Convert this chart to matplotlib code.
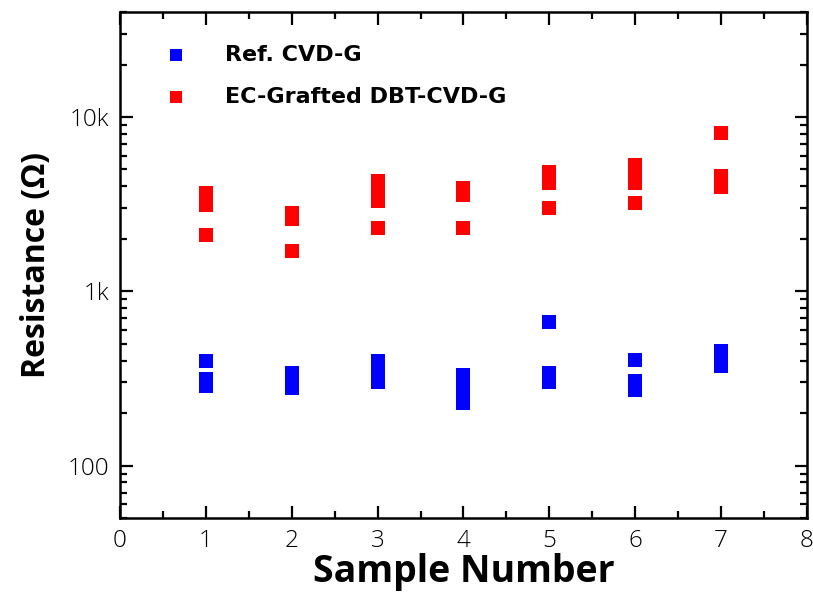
import numpy as np
import matplotlib
matplotlib.use("Agg")
import matplotlib.pyplot as plt
from matplotlib.ticker import FixedLocator, LogLocator, NullFormatter

# resistance values (ohm), per sample number
ref_x = [1, 1, 1, 2, 2, 2, 3, 3, 3, 4, 4, 4, 4, 5, 5, 5, 6, 6, 6, 7, 7, 7]
ref_r = [396, 314, 286, 340, 305, 277, 396, 345, 300, 331, 290, 255, 228,
         670, 338, 302, 401, 304, 273, 454, 410, 373]

dbt_x = [1, 1, 1, 1, 2, 2, 2, 3, 3, 3, 3, 4, 4, 4, 5, 5, 5, 6, 6, 6, 6, 7, 7, 7, 7]
dbt_r = [3680, 3400, 3140, 2100, 2810, 2610, 1700, 4300, 3780, 3310, 2310,
         3900, 3580, 2310, 4820, 4170, 3000, 5320, 4700, 4170, 3200,
         8050, 4600, 4250, 3980]

plt.rcParams['font.family'] = ['Open Sans', 'DejaVu Sans']

fig = plt.figure(figsize=(8.13, 6.11), dpi=100)
ax = fig.add_axes([0.1476, 0.1522, 0.845, 0.828])

ax.scatter(ref_x, ref_r, marker='s', s=100, color='#0000ff', linewidths=0,
           label='Ref. CVD-G', zorder=3)
ax.scatter(dbt_x, dbt_r, marker='s', s=100, color='#ff0000', linewidths=0,
           label='EC-Grafted DBT-CVD-G', zorder=3)

ax.set_yscale('log')
ax.set_xlim(0, 8)
ax.set_ylim(50, 40000)
ax.xaxis.set_major_locator(FixedLocator(range(9)))
ax.xaxis.set_minor_locator(FixedLocator(np.arange(0.5, 8, 1)))
ax.yaxis.set_major_locator(FixedLocator([100, 1000, 10000]))
ax.yaxis.set_minor_locator(LogLocator(base=10, subs=np.arange(2, 10)))
ax.yaxis.set_minor_formatter(NullFormatter())
ax.set_yticklabels(['100', '1k', '10k'])

for s in ax.spines.values():
    s.set_linewidth(1.8)
ax.tick_params(which='both', direction='in', top=True, right=True, width=1.6)
ax.tick_params(which='major', length=9, labelsize=17.5, pad=8)
ax.tick_params(which='minor', length=5)
for lb in ax.get_xticklabels() + ax.get_yticklabels():
    lb.set_fontweight('light')

ax.set_xlabel('Sample Number', fontsize=27, fontweight='bold', labelpad=0)
ax.set_ylabel('Resistance (Ω)', fontsize=23, fontweight='bold', labelpad=10)

ax.legend(loc='upper left', bbox_to_anchor=(0.02, 0.975), frameon=False,
          markerscale=0.9, handletextpad=1.2, labelspacing=1.0,
          prop={'family': 'DejaVu Sans', 'weight': 'bold', 'size': 16})

fig.savefig('out.png', dpi=100)
